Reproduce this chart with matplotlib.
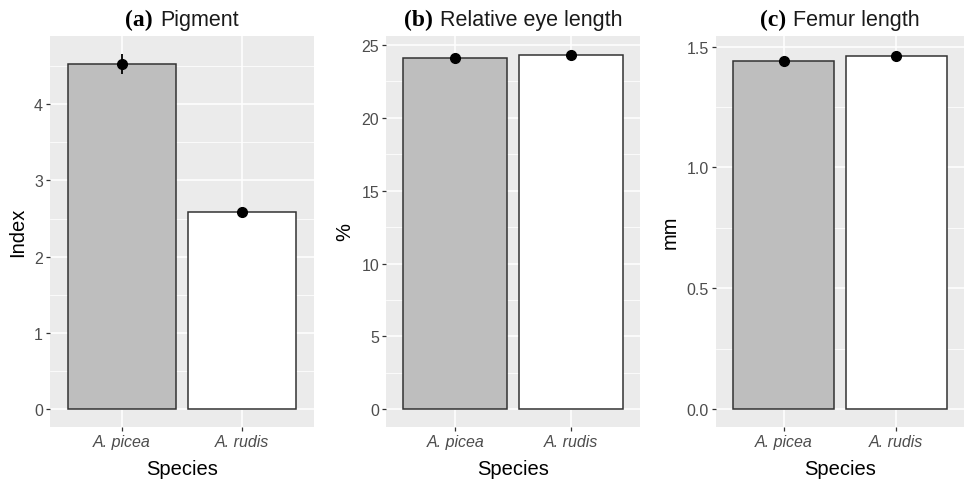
import numpy as np
import matplotlib
matplotlib.use("Agg")
import matplotlib.pyplot as plt
from matplotlib.ticker import MultipleLocator, FormatStrFormatter
from matplotlib.offsetbox import TextArea, HPacker, AnchoredOffsetbox

# data
species = ["A. picea", "A. rudis"]
pigment_mean = [4.53, 2.59]
pigment_se = [0.13, 0.03]
eye_mean = [24.1, 24.3]
eye_se = [0.13, 0.10]
femur_mean = [1.44, 1.46]
femur_se = [0.008, 0.01]

panel_tags = ["(a)", "(b)", "(c)"]
panel_names = ["Pigment", "Relative eye length", "Femur length"]
y_labels = ["Index", "%", "mm"]
y_steps = [1, 5, 0.5]
y_formats = ["%d", "%d", "%.1f"]

plt.rcParams["font.family"] = ["Liberation Sans", "DejaVu Sans"]

W, H = 965, 481
fig = plt.figure(figsize=(W / 100, H / 100), dpi=100)

# axes boxes in pixels: left, right, top, bottom
boxes = [(50, 314, 37, 428), (386, 640, 37, 428), (716, 964, 37, 428)]

means = [pigment_mean, eye_mean, femur_mean]
ses = [pigment_se, eye_se, femur_se]
x = np.arange(len(species))

for i in range(3):
    l, r, t, b = boxes[i]
    ax = fig.add_axes([l / W, 1 - b / H, (r - l) / W, (b - t) / H])
    ax.set_facecolor("#EBEBEB")
    for s in ax.spines.values():
        s.set_visible(False)

    m = np.array(means[i])
    e = np.array(ses[i])
    ax.bar(x, m, width=0.9, color=["#BEBEBE", "white"], edgecolor="#333333",
           linewidth=1.1, zorder=3)
    ax.vlines(x, m - e, m + e, color="black", linewidth=1.3, zorder=4)
    ax.plot(x, m, "o", color="black", markersize=7, zorder=5)

    # ggplot-like 5% expansion
    hi = (m + e).max()
    ax.set_ylim(-0.05 * hi, 1.05 * hi)
    ax.set_xlim(-0.6, 1.6)

    ax.yaxis.set_major_locator(MultipleLocator(y_steps[i]))
    ax.yaxis.set_minor_locator(MultipleLocator(y_steps[i] / 2))
    ax.yaxis.set_major_formatter(FormatStrFormatter(y_formats[i]))
    ax.set_xticks(x)
    ax.set_xticklabels(species, style="italic")
    ax.grid(which="major", color="white", linewidth=1.1, zorder=0)
    ax.grid(which="minor", axis="y", color="white", linewidth=0.55, zorder=0)
    ax.set_axisbelow(True)
    ax.tick_params(which="major", length=3, width=0.9, color="#333333",
                   labelcolor="#4D4D4D", labelsize=11.5, pad=2)
    ax.tick_params(which="minor", length=0)

    ax.set_xlabel("Species", fontsize=14.5, labelpad=7)
    ax.set_ylabel(y_labels[i], fontsize=14.5, labelpad=5)

    # title with bold serif tag and sans name
    tag = TextArea(panel_tags[i], textprops=dict(family="Liberation Serif",
                                                  weight="bold", size=17))
    name = TextArea(panel_names[i], textprops=dict(family="Liberation Sans",
                                                   size=15.5, color="#1A1A1A"))
    box = HPacker(children=[tag, name], align="baseline", pad=0, sep=5)
    anchored = AnchoredOffsetbox(loc="lower center", child=box, pad=0,
                                 frameon=False, bbox_to_anchor=(0.5, 1.015),
                                 bbox_transform=ax.transAxes, borderpad=0)
    ax.add_artist(anchored)

fig.savefig("out.png", dpi=100)
